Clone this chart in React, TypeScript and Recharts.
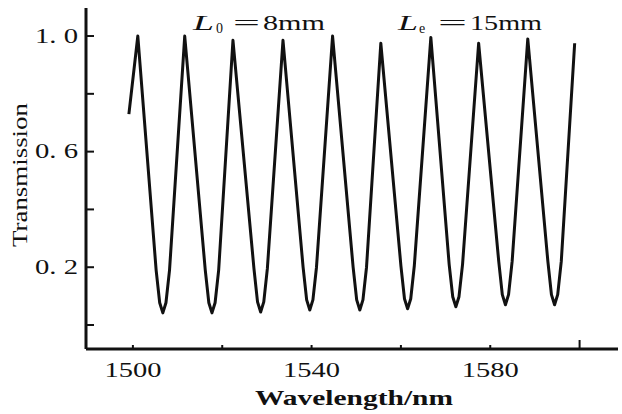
import { LineChart, Line, XAxis, YAxis, Customized } from "recharts";

// wavelength (nm) and transmission
const wavelength = [
  1499.1, 1501.1,
  1505.2, 1506.0, 1506.7, 1507.4, 1508.2, 1511.6,
  1516.2, 1517.0, 1517.7, 1518.4, 1519.2, 1522.4,
  1527.1, 1527.9, 1528.6, 1529.3, 1530.1, 1533.6,
  1538.1, 1538.9, 1539.6, 1540.3, 1541.1, 1544.7,
  1549.3, 1550.1, 1550.8, 1551.5, 1552.3, 1555.5,
  1560.0, 1560.8, 1561.5, 1562.2, 1563.0, 1566.7,
  1570.8, 1571.6, 1572.3, 1573.0, 1573.8, 1577.4,
  1581.9, 1582.7, 1583.4, 1584.1, 1584.9, 1588.4,
  1592.9, 1593.7, 1594.4, 1595.1, 1595.9, 1598.9,
];
const transmission = [
  0.73, 1.0,
  0.19, 0.077, 0.042, 0.077, 0.19, 1.0,
  0.19, 0.077, 0.042, 0.077, 0.19, 0.985,
  0.195, 0.08, 0.045, 0.08, 0.195, 0.985,
  0.2, 0.087, 0.052, 0.087, 0.2, 1.0,
  0.2, 0.087, 0.052, 0.087, 0.2, 0.975,
  0.205, 0.091, 0.056, 0.091, 0.205, 0.995,
  0.21, 0.098, 0.063, 0.098, 0.21, 0.975,
  0.22, 0.105, 0.07, 0.105, 0.22, 0.99,
  0.22, 0.105, 0.07, 0.105, 0.22, 0.975,
];

const xTicks = [1500, 1520, 1540, 1560, 1580, 1600];
const xLabels = [1500, 1540, 1580];
const yTicks = [0, 0.2, 0.4, 0.6, 0.8, 1.0];
const yLabels = [0.2, 0.6, 1.0];

const data = wavelength.map((w, i) => ({ w, t: transmission[i] }));

const ink = "#111";
const serif = "'Liberation Serif', 'DejaVu Serif', serif";

function XTick({ x, y, payload }: any) {
  const v = payload.value;
  const len = v === 1600 ? 9 : 4;
  return (
    <g>
      <line x1={x} x2={x} y1={y} y2={y - len} stroke={ink} strokeWidth={2} />
      {xLabels.includes(v) && (
        <text
          x={x}
          y={y + 28}
          textAnchor="middle"
          fill={ink}
          fontFamily={serif}
          fontSize={20}
          textLength={57}
          lengthAdjust="spacingAndGlyphs"
        >
          {v}
        </text>
      )}
    </g>
  );
}

function YTick({ x, y, payload }: any) {
  const v = payload.value;
  const show = yLabels.some((l) => Math.abs(l - v) < 1e-6);
  return (
    <g>
      <line x1={x} x2={x + 8} y1={y} y2={y} stroke={ink} strokeWidth={2} />
      {show && (
        <text
          x={x - 8}
          y={y + 6.5}
          textAnchor="end"
          fill={ink}
          fontFamily={serif}
          fontSize={20}
          textLength={43}
          lengthAdjust="spacingAndGlyphs"
        >
          {v.toFixed(1).replace(".", ". ")}
        </text>
      )}
    </g>
  );
}

function Titles() {
  const t = { fill: ink, fontFamily: serif } as const;
  return (
    <g>
      <text
        {...t}
        x={27}
        y={175}
        fontSize={20}
        textLength={144}
        lengthAdjust="spacingAndGlyphs"
        textAnchor="middle"
        transform="rotate(-90 27 175)"
      >
        Transmission
      </text>
      <text
        {...t}
        x={354}
        y={405}
        fontSize={21}
        fontWeight="bold"
        textLength={198}
        lengthAdjust="spacingAndGlyphs"
        textAnchor="middle"
      >
        Wavelength/nm
      </text>

      <text {...t} x={193} y={30} fontSize={22} fontStyle="italic" textLength={21} lengthAdjust="spacingAndGlyphs">L</text>
      <text {...t} x={216} y={33} fontSize={14}>0</text>
      <text {...t} x={233} y={30} fontSize={22} textLength={27} lengthAdjust="spacingAndGlyphs">=</text>
      <text {...t} x={263} y={30} fontSize={22} textLength={62} lengthAdjust="spacingAndGlyphs">8mm</text>

      <text {...t} x={398} y={30} fontSize={22} fontStyle="italic" textLength={20} lengthAdjust="spacingAndGlyphs">L</text>
      <text {...t} x={419} y={33} fontSize={14}>e</text>
      <text {...t} x={438} y={30} fontSize={22} textLength={29} lengthAdjust="spacingAndGlyphs">=</text>
      <text {...t} x={470} y={30} fontSize={22} textLength={72} lengthAdjust="spacingAndGlyphs">15mm</text>
    </g>
  );
}

export default function App() {
  return (
    <div
      style={{
        position: "absolute",
        left: 0,
        top: 0,
        width: 622,
        height: 414,
        background: "#fff",
      }}
    >
      <LineChart
        width={622}
        height={414}
        data={data}
        margin={{ top: 8, right: 4, bottom: 0, left: 0 }}
      >
        <XAxis
          dataKey="w"
          type="number"
          domain={[1489.5, 1608.6]}
          allowDataOverflow
          ticks={xTicks}
          interval={0}
          height={65}
          tickSize={0}
          tickMargin={0}
          tickLine={false}
          axisLine={{ stroke: ink, strokeWidth: 3 }}
          tick={<XTick />}
        />
        <XAxis
          xAxisId="top"
          orientation="top"
          dataKey="w"
          type="number"
          domain={[1489.5, 1608.6]}
          height={0}
          tick={false}
          tickLine={false}
          axisLine={{ stroke: ink, strokeWidth: 2.5 }}
        />
        <YAxis
          type="number"
          domain={[-0.083, 1.097]}
          allowDataOverflow
          ticks={yTicks}
          interval={0}
          width={86}
          tickSize={0}
          tickMargin={0}
          tickLine={false}
          axisLine={{ stroke: ink, strokeWidth: 3 }}
          tick={<YTick />}
        />
        <YAxis
          yAxisId="right"
          orientation="right"
          domain={[-0.083, 1.097]}
          width={0}
          tick={false}
          tickLine={false}
          axisLine={{ stroke: ink, strokeWidth: 2 }}
        />
        <Line
          type="linear"
          dataKey="t"
          stroke={ink}
          strokeWidth={3}
          strokeLinejoin="round"
          dot={false}
          isAnimationActive={false}
        />
        <Customized component={<Titles />} />
      </LineChart>
    </div>
  );
}
